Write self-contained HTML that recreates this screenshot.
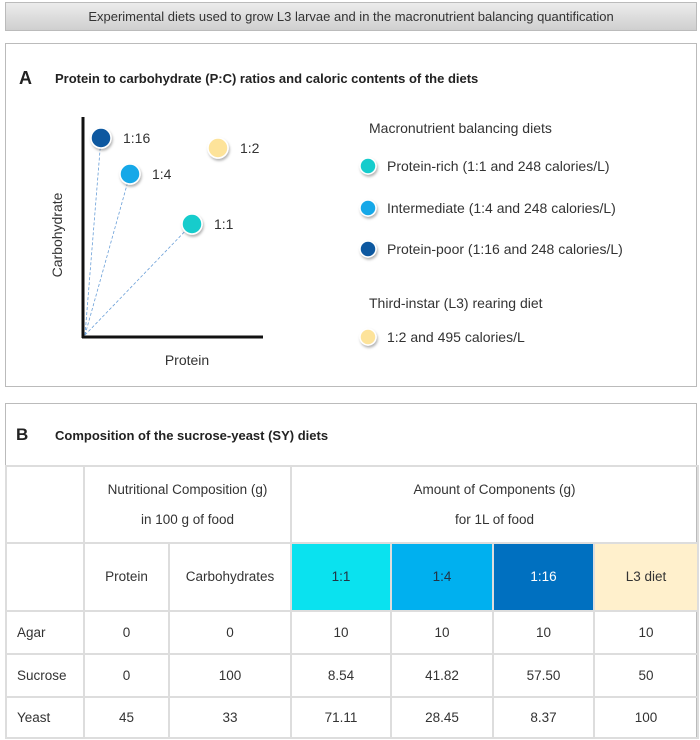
<!DOCTYPE html>
<html><head><meta charset="utf-8"><style>
body{margin:0;width:700px;height:740px;background:#fff;font-family:"Liberation Sans",sans-serif;color:#222;position:relative;overflow:hidden}
.abs{position:absolute}
#bar{left:5px;top:2px;width:690px;height:27px;background:linear-gradient(#ececec,#cfcfcf);border:1px solid #bbb;text-align:center;font-size:13px;line-height:27px;color:#333}
.box{left:5px;width:690px;border:1.5px solid #bbb;background:#fff}
.ttl{font-weight:bold;font-size:13px}
table{border-collapse:collapse;position:absolute;left:5px;top:465px;width:692px;font-size:13.5px;color:#333;table-layout:fixed}
td{border:2px solid #ddd;text-align:center;padding:0;line-height:16px;box-sizing:border-box}
td.l{text-align:left;padding-left:10px}
</style></head><body>
<div id="bar" class="abs">Experimental diets used to grow L3 larvae and in the macronutrient balancing quantification</div>
<div class="abs box" style="top:43px;height:342px"></div>
<div class="abs" style="left:19px;top:68px;font-size:18px;font-weight:bold">A</div>
<div class="abs ttl" style="left:55px;top:71px">Protein to carbohydrate (P:C) ratios and caloric contents of the diets</div>
<svg class="abs" style="left:0;top:0" width="700" height="400" id="chart">
<defs><filter id="sh" x="-50%" y="-50%" width="200%" height="200%"><feDropShadow dx="1" dy="2" stdDeviation="1.2" flood-color="#000" flood-opacity="0.3"/></filter></defs>
<line x1="83" y1="117" x2="83" y2="338" stroke="#111" stroke-width="3"/>
<line x1="82" y1="337" x2="263" y2="337" stroke="#111" stroke-width="3"/>
<text x="187" y="365" font-size="14" text-anchor="middle" fill="#333">Protein</text>
<text transform="translate(62,235) rotate(-90)" font-size="14" text-anchor="middle" fill="#333">Carbohydrate</text>
<g id="marks"></g>
</svg>
<div class="abs" style="left:369px;top:120px;font-size:14px;color:#333">Macronutrient balancing diets</div>
<div class="abs" style="left:369px;top:295px;font-size:14px;color:#333">Third-instar (L3) rearing diet</div>
<div class="abs box" style="top:403px;height:333px"></div>
<div class="abs" style="left:16px;top:425px;font-size:17px;font-weight:bold">B</div>
<div class="abs ttl" style="left:55px;top:428px">Composition of the sucrose-yeast (SY) diets</div>
<table>
<colgroup><col style="width:78px"><col style="width:85px"><col style="width:122px"><col style="width:100px"><col style="width:102px"><col style="width:101px"><col style="width:104px"></colgroup>
<tr style="height:77px"><td></td><td colspan="2" style="line-height:30px">Nutritional Composition (g)<br>in 100 g of food</td><td colspan="4" style="line-height:30px">Amount of Components (g)<br>for 1L of food</td></tr>
<tr style="height:68px"><td></td><td>Protein</td><td>Carbohydrates</td>
<td style="background:#0ae2ef;color:#234">1:1</td><td style="background:#00b0ef;color:#234">1:4</td><td style="background:#0070c0;color:#fff">1:16</td><td style="background:#fff0cc">L3 diet</td></tr>
<tr style="height:43px"><td class="l">Agar</td><td>0</td><td>0</td><td>10</td><td>10</td><td>10</td><td>10</td></tr>
<tr style="height:43px"><td class="l">Sucrose</td><td>0</td><td>100</td><td>8.54</td><td>41.82</td><td>57.50</td><td>50</td></tr>
<tr style="height:41px"><td class="l">Yeast</td><td>45</td><td>33</td><td>71.11</td><td>28.45</td><td>8.37</td><td>100</td></tr>
</table>
<script>
const dietLabels=["1:16","1:4","1:1","1:2"];
const proteinVals=[1.8,4.7,10.9,13.5];
const carbVals=[19.9,16.3,11.3,18.9];
const dietColors=["#0a58a0","#16a8e8","#13cccc","#fde39a"];
const legendText=["Protein-rich (1:1 and 248 calories/L)","Intermediate (1:4 and 248 calories/L)","Protein-poor (1:16 and 248 calories/L)","1:2 and 495 calories/L"];
const legendColors=["#13cccc","#16a8e8","#0a58a0","#fde39a"];
const legendY=[166,208,249,337];
const NS="http://www.w3.org/2000/svg";
const xs=v=>83+v*10, ys=v=>337-v*10;
const g=document.getElementById('marks');
function mk(t,a){const e=document.createElementNS(NS,t);for(const k in a)e.setAttribute(k,a[k]);g.appendChild(e);return e;}
for(let i=0;i<dietLabels.length;i++){
  const x=xs(proteinVals[i]),y=ys(carbVals[i]);
  if(i<3){const l=mk('line',{x1:85,y1:335,x2:x,y2:y,stroke:'#6a9fd8','stroke-width':0.8,'stroke-dasharray':'3,2'});
  
  }
}
for(let i=0;i<dietLabels.length;i++){
  const x=xs(proteinVals[i]),y=ys(carbVals[i]);
  const c=mk('circle',{cx:x,cy:y,r:10,fill:dietColors[i],stroke:'#fff','stroke-width':1.5,filter:'url(#sh)'});
  
  
  const t=mk('text',{x:x+22,y:y+5,'font-size':14,fill:'#333'});t.textContent=dietLabels[i];
  
  
}
for(let i=0;i<legendText.length;i++){
  const c=mk('circle',{cx:368,cy:legendY[i],r:8,fill:legendColors[i],stroke:'#fff','stroke-width':1.5,filter:'url(#sh)'});
  
  
  const t=mk('text',{x:387,y:legendY[i]+5,'font-size':14,fill:'#333'});t.textContent=legendText[i];
  
  
}
</script>
</body></html>
